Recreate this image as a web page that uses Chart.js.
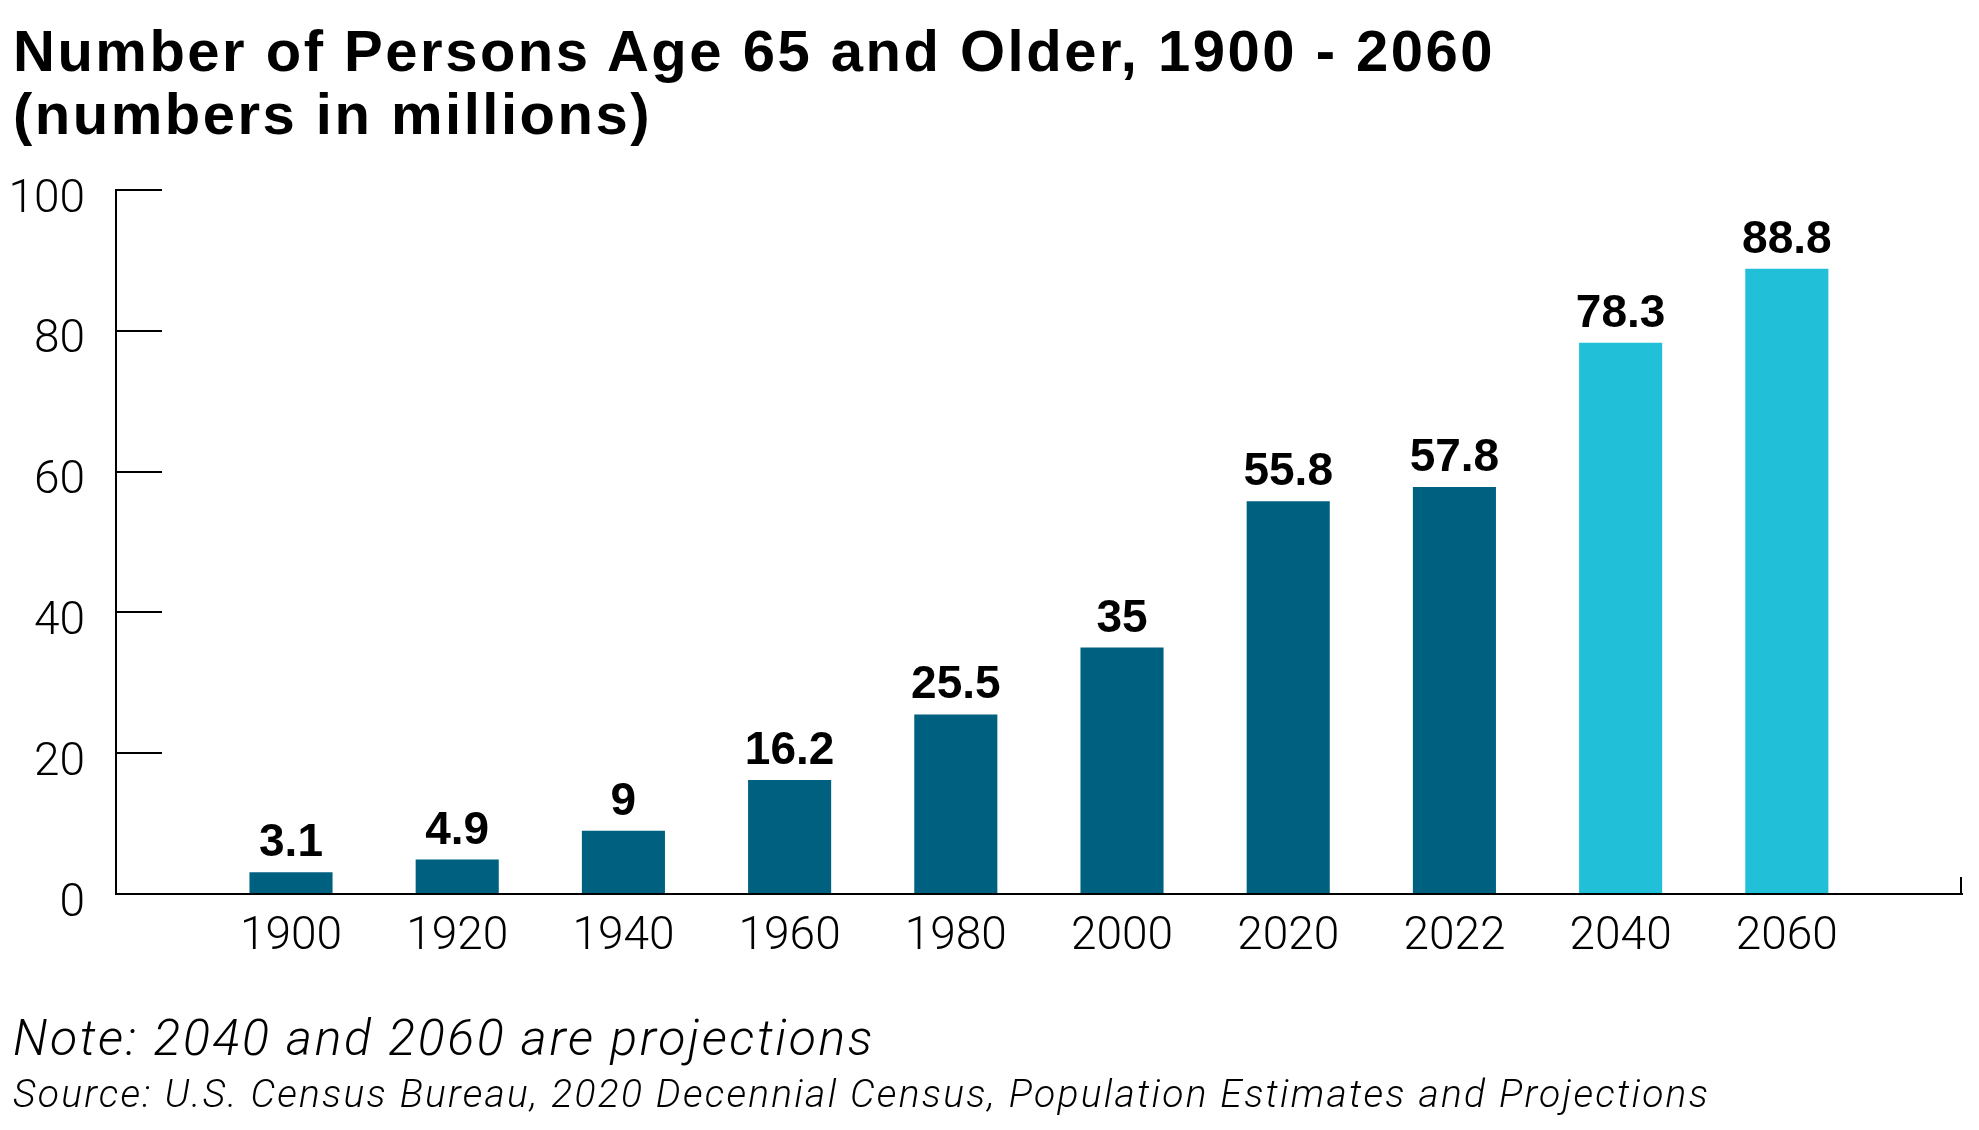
<!DOCTYPE html>
<html>
<head>
<meta charset="utf-8">
<script src="https://cdn.jsdelivr.net/npm/chart.js@4.4.1/dist/chart.umd.min.js"></script>
<style>
  html, body { margin: 0; padding: 0; background: #fff; }
  body { width: 1979px; height: 1130px; position: relative; overflow: hidden; }
  .title {
    position: absolute; left: 13px; top: 19px; white-space: nowrap;
    font-family: "Liberation Sans", Arial, sans-serif; font-weight: bold;
    font-size: 58px; line-height: 63px; color: #000; letter-spacing: 2.5px;
  }
  .note, .source {
    position: absolute; left: 13px;
    font-family: Roboto, "Liberation Sans", sans-serif; font-weight: 300; font-style: italic;
    color: #000; white-space: nowrap; line-height: 1;
  }
  .note { top: 1013px; font-size: 50px; letter-spacing: 2.6px; }
  .source { top: 1075px; font-size: 39px; letter-spacing: 2.25px; }
  #wrap { position: absolute; left: 0; top: 0; width: 1979px; height: 1130px; }
</style>
</head>
<body>
<div id="wrap"><canvas id="ageChart"></canvas></div>
<div class="title">Number of Persons Age 65 and Older, 1900 - 2060<br>(numbers in millions)</div>
<div class="note">Note: 2040 and 2060 are projections</div>
<div class="source">Source: U.S. Census Bureau, 2020 Decennial Census, Population Estimates and Projections</div>

<script>
// Chart data (millions of persons age 65+)
const years = ['1900', '1920', '1940', '1960', '1980', '2000', '2020', '2022', '2040', '2060'];
const persons = [3.1, 4.9, 9, 16.2, 25.5, 35, 55.8, 57.8, 78.3, 88.8];
const projectedYears = ['2040', '2060'];
const yTicks = [0, 20, 40, 60, 80, 100];

const darkTeal = '#00607f';
const lightTeal = '#22bfd8';

// value labels above each bar
const barLabels = {
    id: 'barLabels',
    afterDatasetsDraw(chart) {
        const c = chart.ctx;
        const meta = chart.getDatasetMeta(0);
        c.save();
        c.font = 'bold 46px "Liberation Sans", Arial, sans-serif';
        c.fillStyle = '#000';
        c.textAlign = 'center';
        c.textBaseline = 'alphabetic';
        meta.data.forEach((bar, i) => {
            c.fillText(String(persons[i]), bar.x, bar.y - 16);
        });
        c.restore();
    }
};

// small upward tick at the right end of the x axis
const endTick = {
    id: 'endTick',
    afterDraw(chart) {
        const a = chart.chartArea;
        const c = chart.ctx;
        c.save();
        c.strokeStyle = '#000';
        c.lineWidth = 2;
        c.beginPath();
        c.moveTo(a.right - 1, a.bottom);
        c.lineTo(a.right - 1, a.bottom - 17);
        c.stroke();
        c.restore();
    }
};

const ctx = document.getElementById('ageChart').getContext('2d');

const ageChart = new Chart(ctx, {
    type: 'bar',
    data: {
        datasets: [{
            data: persons.map((v, i) => ({ x: i, y: v })),
            backgroundColor: (c) => projectedYears.includes(years[c.dataIndex]) ? lightTeal : darkTeal,
            borderWidth: 0,
            barPercentage: 0.5,
            categoryPercentage: 1
        }]
    },
    options: {
        responsive: true,
        maintainAspectRatio: false,
        animation: false,
        layout: { padding: { left: 10, right: 17, top: 190, bottom: 136 } },
        scales: {
            x: {
                type: 'linear',
                offset: false,
                min: -1.053,
                max: 10.054,
                afterBuildTicks: (scale) => { scale.ticks = years.map((_, i) => ({ value: i })); },
                afterFit: (scale) => {
                    scale.height = 100;
                    scale.paddingLeft = 0;
                    scale.paddingRight = 0;
                },
                grid: { display: false, drawTicks: false },
                border: { display: true, color: '#000', width: 2 },
                ticks: {
                    autoSkip: false,
                    maxRotation: 0,
                    padding: 16,
                    color: '#000',
                    font: { family: 'Roboto', weight: 300, size: 46 },
                    callback: (value) => years[value]
                }
            },
            y: {
                min: 0,
                max: 100,
                afterBuildTicks: (scale) => { scale.ticks = yTicks.map(v => ({ value: v })); },
                afterFit: (scale) => {
                    scale.width = 106;
                    scale.paddingTop = 0;
                    scale.paddingBottom = 0;
                },
                grid: { drawOnChartArea: false, drawTicks: true, tickLength: -46, color: '#000', lineWidth: 2 },
                border: { display: true, color: '#000', width: 2 },
                ticks: {
                    padding: 77,
                    labelOffset: 10,
                    color: '#000',
                    font: { family: 'Roboto', weight: 300, size: 46 }
                }
            }
        },
        plugins: {
            legend: { display: false },
            tooltip: { enabled: false }
        }
    },
    plugins: [barLabels, endTick]
});
</script>
</body>
</html>
